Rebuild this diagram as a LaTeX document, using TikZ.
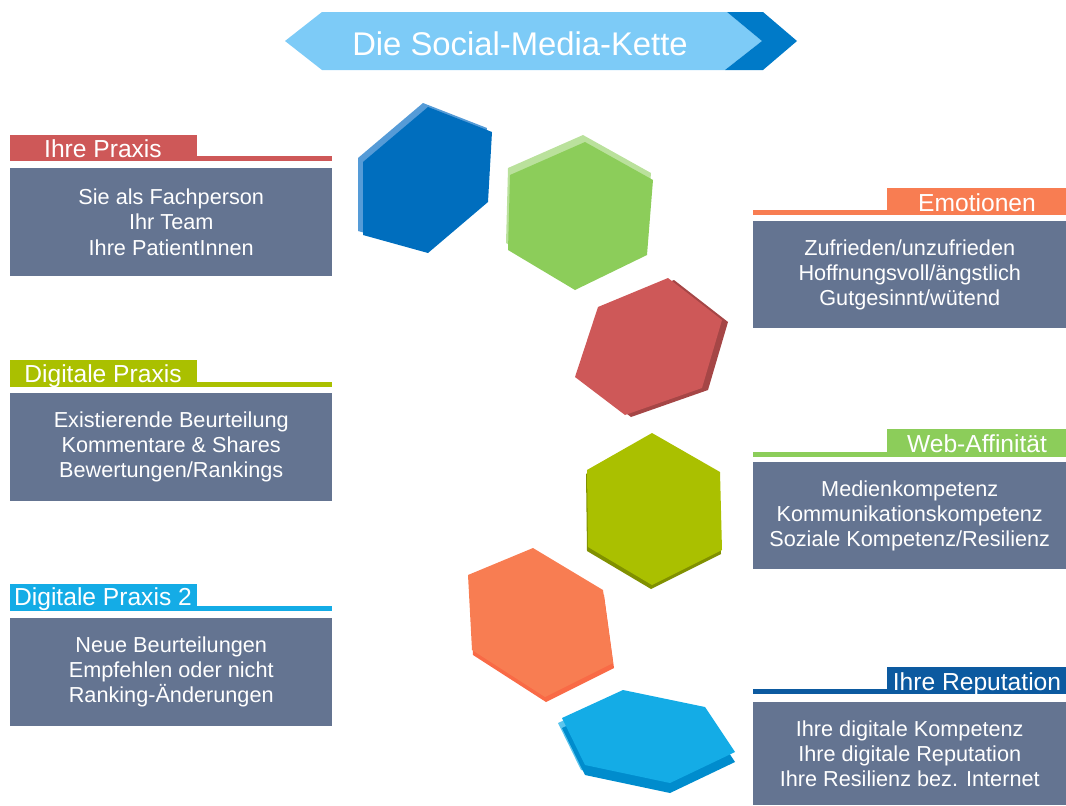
\documentclass[tikz,border=0pt]{standalone}
\usepackage{fontspec}
\setmainfont{Liberation Sans}
\usepackage{xcolor}
\usetikzlibrary{positioning}

\definecolor{slate}{RGB}{100,116,145}
\definecolor{banner}{RGB}{125,203,247}
\definecolor{bannerdark}{RGB}{0,122,200}
\definecolor{hexblue}{RGB}{0,110,190}
\definecolor{hexbluelight}{RGB}{85,155,215}
\definecolor{praxisred}{RGB}{206,88,88}
\definecolor{olive}{RGB}{170,192,0}
\definecolor{skyblue}{RGB}{20,172,230}
\definecolor{skybluedark}{RGB}{0,140,205}
\definecolor{orange}{RGB}{248,125,82}
\definecolor{webgreen}{RGB}{140,205,90}
\definecolor{repblue}{RGB}{12,90,160}

\begin{document}
\begin{tikzpicture}[
    x=0.03cm, y=-0.03cm,
    body/.style={rectangle, fill=slate, text=white, align=center, inner sep=0pt, anchor=north west, font=\fontsize{18.5}{21.4}\selectfont},
    leftbody/.style={body, minimum width=9.66cm, minimum height=3.24cm},
    rightbody/.style={body, minimum width=9.39cm, minimum height=3.21cm},
    tag/.style={text=white, inner sep=0pt, anchor=base, font=\fontsize{21}{24}\selectfont}
]
\useasboundingbox (0,0) rectangle (1066,805);

% Title banner
\fill[banner] (285,41) -- (322,12) -- (727,12) -- (762,41) -- (725,70) -- (322,70) -- cycle;
\fill[bannerdark] (727,12) -- (763,12) -- (797,41) -- (763,70) -- (725,70) -- (762,41) -- cycle;
\node[text=white, inner sep=0pt, anchor=base, font=\fontsize{28}{32}\selectfont] (title) at (520,55) {Die Social-Media-Kette};

% Hexagon chain
\fill[hexbluelight, shift={(-5,-4)}] (428,107) -- (492,132) -- (488,202) -- (428,253) -- (363,235) -- (363,162) -- cycle;
\fill[hexblue] (428,107) -- (492,132) -- (488,202) -- (428,253) -- (363,235) -- (363,162) -- cycle;

\fill[webgreen!60!white, shift={(-2,-7)}] (585,142) -- (653,180) -- (647,255) -- (575,290) -- (508,250) -- (510,175) -- cycle;
\fill[webgreen] (585,142) -- (653,180) -- (647,255) -- (575,290) -- (508,250) -- (510,175) -- cycle;

\fill[praxisred!80!black, shift={(6,2)}] (668,278) -- (722,320) -- (702,388) -- (625,415) -- (575,377) -- (598,307) -- cycle;
\fill[praxisred] (668,278) -- (722,320) -- (702,388) -- (625,415) -- (575,377) -- (598,307) -- cycle;

\fill[olive!75!black, shift={(-1,4)}] (652,433) -- (720,472) -- (722,550) -- (652,585) -- (588,547) -- (587,470) -- cycle;
\fill[olive] (652,433) -- (720,472) -- (722,550) -- (652,585) -- (588,547) -- (587,470) -- cycle;

\fill[orange!85!red, shift={(1,5)}] (533,548) -- (603,590) -- (613,663) -- (545,697) -- (472,650) -- (468,575) -- cycle;
\fill[orange] (533,548) -- (603,590) -- (613,663) -- (545,697) -- (472,650) -- (468,575) -- cycle;

\fill[skyblue!70!white, shift={(-4,5)}] (623,690) -- (705,707) -- (735,752) -- (670,783) -- (585,765) -- (562,718) -- cycle;
\fill[skybluedark, shift={(0,10)}] (623,690) -- (705,707) -- (735,752) -- (670,783) -- (585,765) -- (562,718) -- cycle;
\fill[skyblue] (623,690) -- (705,707) -- (735,752) -- (670,783) -- (585,765) -- (562,718) -- cycle;

% Left column
\fill[praxisred] (10,135) rectangle (197,161);
\fill[praxisred] (197,156) rectangle (332,161);
\node[tag] (praxishead) at (103,157) {Ihre Praxis};
\node[leftbody] (praxis) at (10,168) {Sie als Fachperson\\Ihr Team\\Ihre PatientInnen};

\fill[olive] (10,360) rectangle (197,387);
\fill[olive] (197,382) rectangle (332,387);
\node[tag] (digihead) at (103,382) {Digitale Praxis};
\node[leftbody] (digi) at (10,393) {Existierende Beurteilung\\Kommentare \& Shares\\Bewertungen/Rankings};

\fill[skyblue] (10,584) rectangle (197,611);
\fill[skyblue] (197,606) rectangle (332,611);
\node[tag] (digitwohead) at (103,605) {Digitale Praxis 2};
\node[leftbody] (digitwo) at (10,618) {Neue Beurteilungen\\Empfehlen oder nicht\\Ranking-Änderungen};

% Right column
\fill[orange] (887,188) rectangle (1066,215);
\fill[orange] (753,210) rectangle (887,215);
\node[tag] (emohead) at (977,211) {Emotionen};
\node[rightbody] (emo) at (753,221) {Zufrieden/unzufrieden\\Hoffnungsvoll/ängstlich\\Gutgesinnt/wütend};

\fill[webgreen] (887,429) rectangle (1066,457);
\fill[webgreen] (753,452) rectangle (887,457);
\node[tag] (webhead) at (977,452) {Web-Affinität};
\node[rightbody] (web) at (753,462) {Medienkompetenz\\Kommunikationskompetenz\\Soziale Kompetenz/Resilienz};

\fill[repblue] (887,667) rectangle (1066,694);
\fill[repblue] (753,689) rectangle (887,694);
\node[tag] (rephead) at (977,690) {Ihre Reputation};
\node[rightbody, minimum height=3.09cm] (rep) at (753,702) {Ihre digitale Kompetenz\\Ihre digitale Reputation\\Ihre Resilienz bez. Internet};

\end{tikzpicture}
\end{document}
